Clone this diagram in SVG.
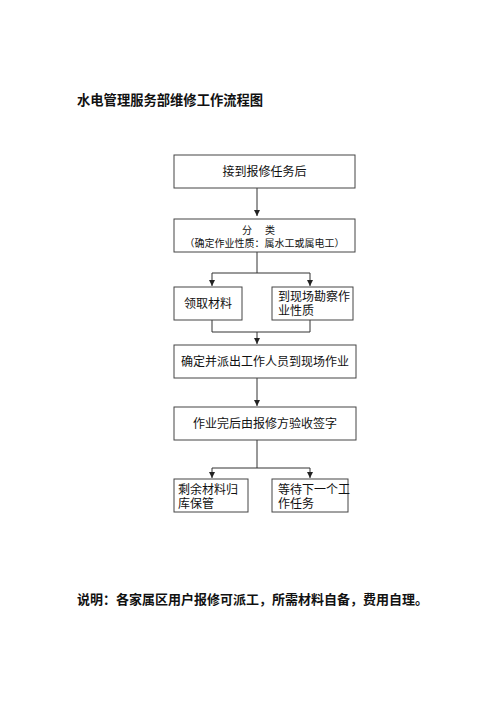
<svg xmlns="http://www.w3.org/2000/svg" width="500" height="708" viewBox="0 0 500 708">
<defs>
<style>
.box{fill:#fff;stroke:#444;stroke-width:1}
.t{font-family:"Liberation Serif","Noto Sans CJK SC",serif;font-size:12px;fill:#111}
.s{font-family:"Liberation Serif","Noto Sans CJK SC",serif;font-size:10px;fill:#111}
.c{text-anchor:middle}
.ln{fill:none;stroke:#333;stroke-width:1}
.title{font-family:"Noto Sans CJK SC",sans-serif;font-size:13.3px;font-weight:bold;fill:#111}
.note{font-family:"Noto Sans CJK SC",sans-serif;font-size:13px;font-weight:bold;fill:#111}
</style>
<marker id="ah" viewBox="0 0 8 8" refX="8" refY="4" markerWidth="6" markerHeight="6" markerUnits="userSpaceOnUse" orient="auto">
<path d="M0,0 L8,4 L0,8 Z" fill="#222"/>
</marker>
</defs>
<rect width="500" height="708" fill="#fff"/>
<text class="title" x="77" y="105">水电管理服务部维修工作流程图</text>

<g id="connectors">
<path class="ln" d="M257,188 V216" marker-end="url(#ah)"/>
<path class="ln" d="M257,252 V273 M212,273 H310"/>
<path class="ln" d="M212,273 V286" marker-end="url(#ah)"/>
<path class="ln" d="M310,273 V286" marker-end="url(#ah)"/>
<path class="ln" d="M212,320 V332 H310 V320"/>
<path class="ln" d="M257,332 V344" marker-end="url(#ah)"/>
<path class="ln" d="M257,378 V406" marker-end="url(#ah)"/>
<path class="ln" d="M257,440 V468 M212,468 H310"/>
<path class="ln" d="M212,468 V478" marker-end="url(#ah)"/>
<path class="ln" d="M310,468 V478" marker-end="url(#ah)"/>
</g>

<g id="n1">
<rect class="box" x="174" y="155" width="181" height="33"/>
<text class="t c" x="264.5" y="176">接到报修任务后</text>
</g>
<g id="n2">
<rect class="box" x="174" y="219" width="181" height="33"/>
<text class="s" x="242" y="234">分</text>
<text class="s" x="265" y="234">类</text>
<text class="s c" x="264.5" y="247">（确定作业性质：属水工或属电工）</text>
</g>
<g id="n3">
<rect class="box" x="174" y="287" width="68" height="33"/>
<text class="t c" x="208" y="308">领取材料</text>
</g>
<g id="n4">
<rect class="box" x="272" y="287" width="81" height="33"/>
<text class="t" x="278" y="301">到现场勘察作</text>
<text class="t" x="278" y="315">业性质</text>
</g>
<g id="n5">
<rect class="box" x="174" y="345" width="182" height="33"/>
<text class="t c" x="265" y="366">确定并派出工作人员到现场作业</text>
</g>
<g id="n6">
<rect class="box" x="174" y="407" width="182" height="33"/>
<text class="t c" x="265" y="428">作业完后由报修方验收签字</text>
</g>
<g id="n7">
<rect class="box" x="174" y="479" width="74" height="33"/>
<text class="t" x="178" y="494">剩余材料归</text>
<text class="t" x="178" y="508">库保管</text>
</g>
<g id="n8">
<rect class="box" x="272" y="479" width="76" height="33"/>
<text class="t" x="278" y="494">等待下一个工</text>
<text class="t" x="278" y="508">作任务</text>
</g>

<text class="note" x="77" y="604">说明：各家属区用户报修可派工，所需材料自备，费用自理。</text>
</svg>
